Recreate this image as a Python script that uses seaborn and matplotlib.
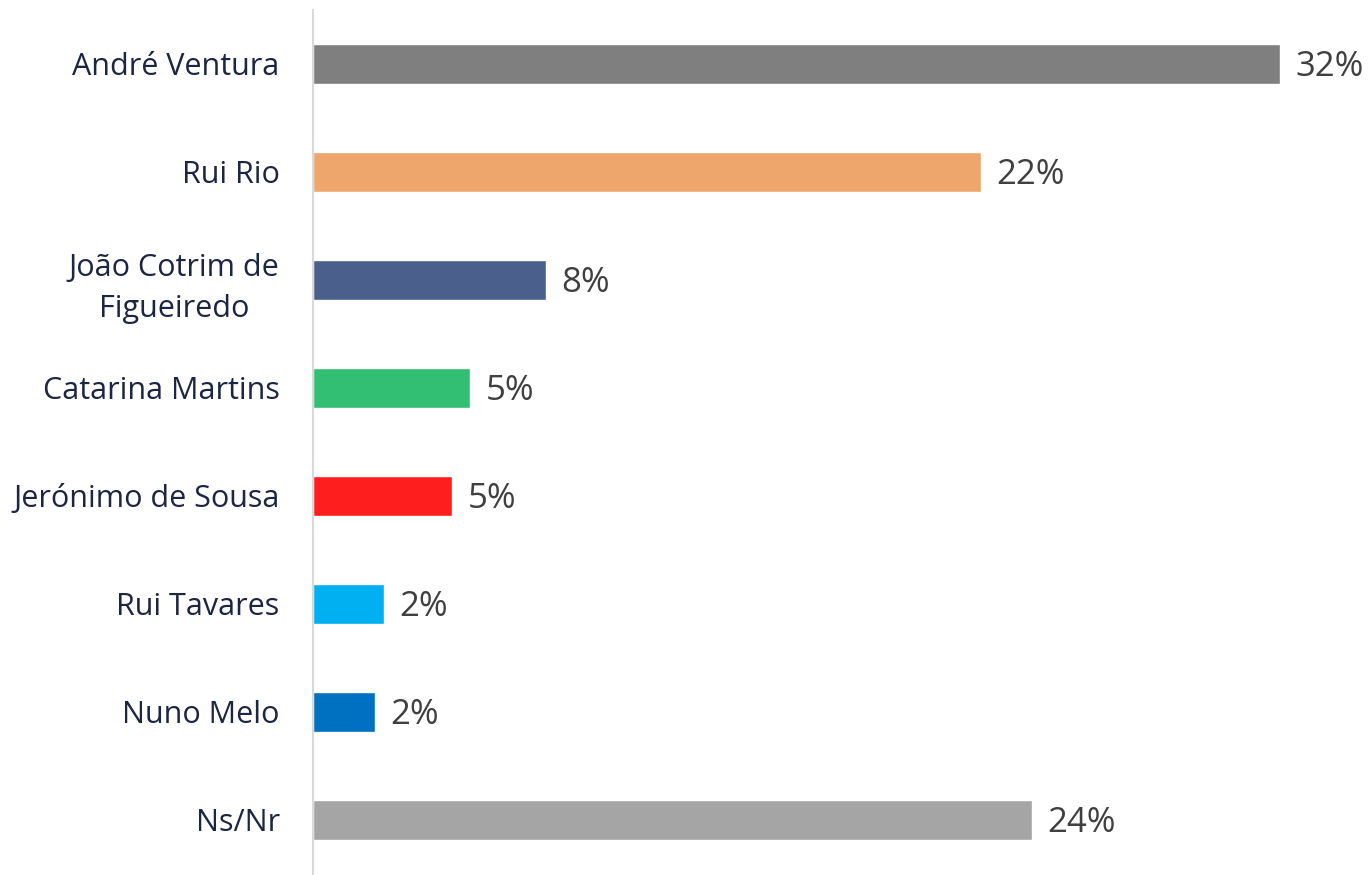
import pandas as pd
import matplotlib.pyplot as plt
import seaborn as sns

# values (bar lengths), labels are rounded
candidates = ['André Ventura', 'Rui Rio', 'João Cotrim de\nFigueiredo', 'Catarina Martins',
              'Jerónimo de Sousa', 'Rui Tavares', 'Nuno Melo', 'Ns/Nr']
values = [32.0, 22.1, 7.7, 5.2, 4.6, 2.35, 2.05, 23.8]
labels = ['32%', '22%', '8%', '5%', '5%', '2%', '2%', '24%']
colors = ['#7f7f7f', '#eea66d', '#4b5f8c', '#33bf73', '#ff1e1e', '#00b0f0', '#0070c0', '#a5a5a5']

df = pd.DataFrame({'candidate': candidates, 'value': values})

sns.set_theme(style='white')
plt.rcParams['font.family'] = ['Open Sans', 'DejaVu Sans']

fig = plt.figure(figsize=(13.68, 8.75), dpi=100)
ax = fig.add_axes([313 / 1368, 0, 1055 / 1368, 865 / 875])

sns.barplot(data=df, y='candidate', x='value', hue='candidate', palette=colors,
            orient='h', width=0.37, legend=False, ax=ax, saturation=1)

for i, (v, lab) in enumerate(zip(values, labels)):
    ax.annotate(lab, (v, i), xytext=(11, -2.5), textcoords='offset points',
                va='center', ha='left', fontsize=25, color='#404040')

ax.set_xlim(0, 1055 / 30.22)
ax.set_ylim(7.51, -0.5)
ax.set_xlabel('')
ax.set_ylabel('')
ax.set_xticks([])
ax.tick_params(axis='y', length=0, pad=24, labelsize=22, labelcolor='#1c2541')
for lbl in ax.get_yticklabels():
    lbl.set_multialignment('center')
    lbl.set_linespacing(1.45)

for s in ['top', 'right', 'bottom']:
    ax.spines[s].set_visible(False)
ax.spines['left'].set_color('#d9d9d9')
ax.spines['left'].set_linewidth(1.5)

fig.savefig('out.png', dpi=100)
